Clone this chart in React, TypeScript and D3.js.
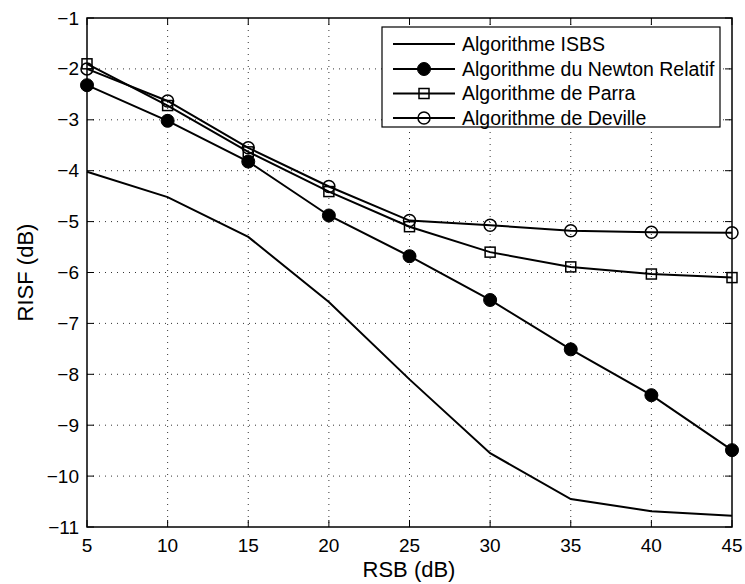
import React from "react";
import * as d3 from "d3";

const rsb = [5, 10, 15, 20, 25, 30, 35, 40, 45];
const isbs = [-4.02, -4.52, -5.3, -6.58, -8.1, -9.55, -10.45, -10.69, -10.78];
const newton = [-2.32, -3.02, -3.82, -4.88, -5.68, -6.54, -7.51, -8.41, -9.49];
const parra = [-1.9, -2.72, -3.63, -4.41, -5.1, -5.6, -5.89, -6.03, -6.1];
const deville = [-2.0, -2.63, -3.55, -4.31, -4.98, -5.07, -5.18, -5.21, -5.22];
const xTicks = [5, 10, 15, 20, 25, 30, 35, 40, 45];
const yTicks = [-1, -2, -3, -4, -5, -6, -7, -8, -9, -10, -11];
const legendLabels = [
  "Algorithme ISBS",
  "Algorithme du Newton Relatif",
  "Algorithme de Parra",
  "Algorithme de Deville",
];

const L = 87, R = 732, T = 18, B = 527;
const font = "'Liberation Sans', Arial, Helvetica, sans-serif";

export default function App() {
  const x = d3.scaleLinear().domain([5, 45]).range([L, R]);
  const y = d3.scaleLinear().domain([-11, -1]).range([B, T]);
  const line = d3.line<number>().x((_, i) => x(rsb[i])).y((d) => y(d));
  const series = [
    { data: isbs, marker: "none" },
    { data: newton, marker: "filled" },
    { data: parra, marker: "square" },
    { data: deville, marker: "circle" },
  ];
  const marker = (type: string, cx: number, cy: number, key: any) => {
    if (type === "filled") return <circle key={key} cx={cx} cy={cy} r={6.5} fill="#000" stroke="#000" strokeWidth={1} />;
    if (type === "square") return <rect key={key} x={cx - 5} y={cy - 5} width={10} height={10} fill="none" stroke="#000" strokeWidth={1.5} />;
    if (type === "circle") return <circle key={key} cx={cx} cy={cy} r={6} fill="none" stroke="#000" strokeWidth={1.5} />;
    return null;
  };
  const legY = [44, 69, 93.5, 118];
  return (
    <svg width={745} height={584} style={{ position: "absolute", left: 0, top: 0 }} fontFamily={font}>
      <rect x={0} y={0} width={745} height={584} fill="#fff" />
      {/* grid */}
      {xTicks.slice(1, -1).map((t) => (
        <line key={"gx" + t} x1={x(t)} x2={x(t)} y1={T} y2={B} stroke="#000" strokeWidth={0.8} strokeDasharray="1,5" />
      ))}
      {yTicks.slice(1, -1).map((t) => (
        <line key={"gy" + t} x1={L} x2={R} y1={y(t)} y2={y(t)} stroke="#000" strokeWidth={0.8} strokeDasharray="1,5" />
      ))}
      {/* ticks */}
      {xTicks.map((t) => (
        <g key={"tx" + t}>
          <line x1={x(t)} x2={x(t)} y1={B} y2={B - 7} stroke="#000" strokeWidth={1} />
          <line x1={x(t)} x2={x(t)} y1={T} y2={T + 7} stroke="#000" strokeWidth={1} />
          <text x={x(t)} y={552} fontSize={19} textAnchor="middle">{t}</text>
        </g>
      ))}
      {yTicks.map((t) => (
        <g key={"ty" + t}>
          <line x1={L} x2={L + 7} y1={y(t)} y2={y(t)} stroke="#000" strokeWidth={1} />
          <line x1={R} x2={R - 7} y1={y(t)} y2={y(t)} stroke="#000" strokeWidth={1} />
          <text x={79} y={y(t) + 6.5} fontSize={19} textAnchor="end">{t < 0 ? "\u2212" + Math.abs(t) : t}</text>
        </g>
      ))}
      {/* series */}
      {series.map((s, si) => (
        <g key={"s" + si}>
          <path d={line(s.data) || ""} fill="none" stroke="#000" strokeWidth={2} />
          {s.data.map((v, i) => marker(s.marker, x(rsb[i]), y(v), i))}
        </g>
      ))}
      <rect x={L} y={T} width={R - L} height={B - T} fill="none" stroke="#000" strokeWidth={1.5} />
      {/* legend */}
      <rect x={382} y={27} width={338} height={100} fill="#fff" stroke="#000" strokeWidth={1.2} />
      {legendLabels.map((lab, i) => (
        <g key={"l" + i}>
          <line x1={393} x2={455} y1={legY[i]} y2={legY[i]} stroke="#000" strokeWidth={2} />
          {marker(series[i].marker, 424, legY[i], "m")}
          <text x={462} y={legY[i] + 6.5} fontSize={19.5}>{lab}</text>
        </g>
      ))}
      <text x={409} y={577} fontSize={22} textAnchor="middle">RSB (dB)</text>
      <text transform="translate(33,272.5) rotate(-90)" fontSize={22} textAnchor="middle">RISF (dB)</text>
    </svg>
  );
}
